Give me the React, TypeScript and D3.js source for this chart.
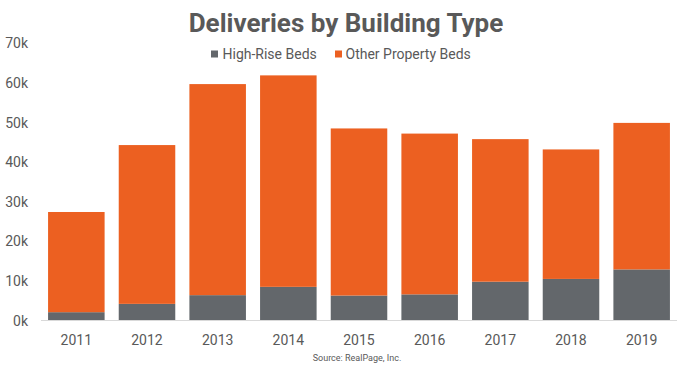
import React from "react";
import * as d3 from "d3";

const years = ["2011", "2012", "2013", "2014", "2015", "2016", "2017", "2018", "2019"];
const highRise = [2100, 4200, 6400, 8500, 6300, 6600, 9800, 10500, 12900];
const totals = [27400, 44300, 59700, 61900, 48500, 47200, 45800, 43200, 49900];
const yTicks = [0, 10000, 20000, 30000, 40000, 50000, 60000, 70000];
const seriesNames = ["High-Rise Beds", "Other Property Beds"];
const colors = ["#63676B", "#EC6021"];

const W = 680;
const H = 369;

export default function App() {
  const x = d3.scaleBand<string>().domain(years).range([41, 677]).paddingInner(0.2).paddingOuter(0.1);
  const y = d3.scaleLinear().domain([0, 70000]).range([320.5, 43.3]);
  const rows = years.map((yr, i) => ({ year: yr, high: highRise[i], other: totals[i] - highRise[i] }));
  const stack = d3.stack<any>().keys(["high", "other"])(rows);
  const font = "Roboto, 'Noto Sans', sans-serif";
  return (
    <svg width={W} height={H} style={{ position: "absolute", left: 0, top: 0, background: "#fff" }} fontFamily={font}>
      <text x={346} y={32} textAnchor="middle" fontSize={26} fontWeight={700} fill="#595959">
        Deliveries by Building Type
      </text>
      <g>
        <rect x={211} y={50.5} width={7} height={7} fill={colors[0]} />
        <text x={222.5} y={59} fontSize={14} fill="#595959">{seriesNames[0]}</text>
        <rect x={335} y={50.5} width={7} height={7} fill={colors[1]} />
        <text x={345.5} y={59} fontSize={14} fill="#595959">{seriesNames[1]}</text>
      </g>
      {yTicks.map((t) => (
        <text key={t} x={28} y={y(t) + 5} textAnchor="end" fontSize={14} fill="#595959">
          {t / 1000 + "k"}
        </text>
      ))}
      {stack.map((s, si) => (
        <g key={si} fill={colors[si]}>
          {s.map((d: any) => (
            <rect key={d.data.year} x={x(d.data.year)} y={y(d[1])} width={x.bandwidth()} height={y(d[0]) - y(d[1])} />
          ))}
        </g>
      ))}
      <line x1={41} x2={677} y1={320.5} y2={320.5} stroke="#d9d9d9" strokeWidth={1} />
      {years.map((yr) => (
        <text key={yr} x={(x(yr) as number) + x.bandwidth() / 2} y={345} textAnchor="middle" fontSize={14} fill="#595959">
          {yr}
        </text>
      ))}
      <text x={357} y={361} textAnchor="middle" fontSize={9} fill="#595959">Source: RealPage, Inc.</text>
    </svg>
  );
}
